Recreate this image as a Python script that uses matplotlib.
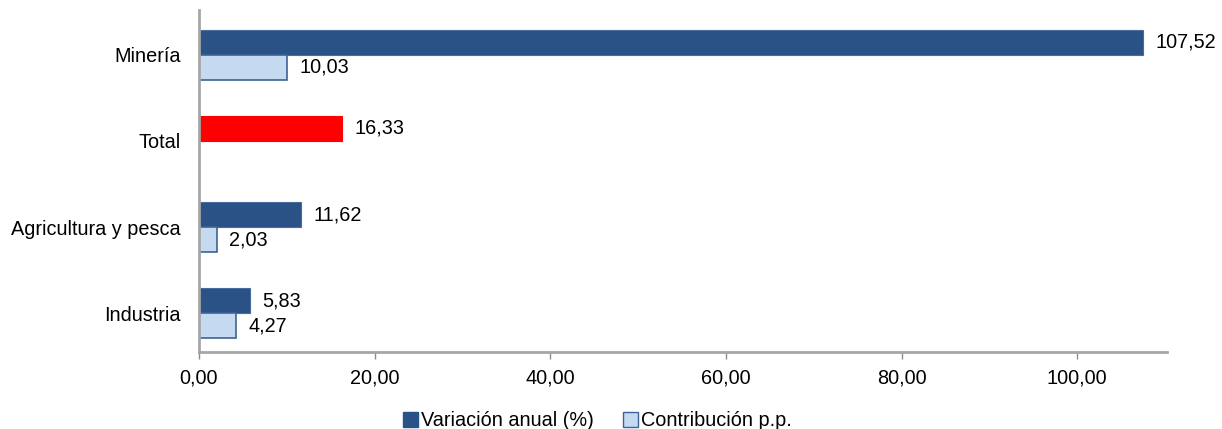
import matplotlib
matplotlib.use('Agg')
import matplotlib.pyplot as plt
from matplotlib.patches import Patch

plt.rcParams['font.family'] = ['Liberation Sans', 'DejaVu Sans']

categorias = ['Industria', 'Agricultura y pesca', 'Total', 'Minería']
variacion = [5.83, 11.62, None, 107.52]
contribucion = [4.27, 2.03, None, 10.03]
total_valor = 16.33
ticks = [0, 20, 40, 60, 80, 100]

dark = '#2A5286'
light = '#C5D9F1'
red = '#FF0000'
fs = 14.3


def fmt(v):
    return '{:.2f}'.format(v).replace('.', ',')


fig = plt.figure(figsize=(12.22, 4.29), dpi=100)
ax = fig.add_axes([0.1628, 0.179, 0.7921, 0.798])

h = 0.29
for i, cat in enumerate(categorias):
    if cat == 'Total':
        ax.barh(i + h / 2, total_valor, height=h, color=red, edgecolor=red, linewidth=0.8)
        ax.text(total_valor + 1.4, i + h / 2, fmt(total_valor), va='center', ha='left', fontsize=fs)
        continue
    ax.barh(i + h / 2, variacion[i], height=h, color=dark, edgecolor='#4A6C9C', linewidth=0.8)
    ax.barh(i - h / 2, contribucion[i], height=h, color=light, edgecolor='#3E6393', linewidth=1.2)
    ax.text(variacion[i] + 1.4, i + h / 2, fmt(variacion[i]), va='center', ha='left', fontsize=fs)
    ax.text(contribucion[i] + 1.4, i - h / 2, fmt(contribucion[i]), va='center', ha='left', fontsize=fs)

ax.set_xlim(0, 110.2)
ax.set_ylim(-0.45, 3.52)
ax.set_yticks(range(len(categorias)))
ax.set_yticklabels(categorias, fontsize=fs)
ax.set_xticks(ticks)
ax.set_xticklabels([fmt(t) for t in ticks], fontsize=fs)
ax.tick_params(axis='y', length=0, pad=13)
ax.tick_params(axis='x', length=5, width=1, color='#8C8C8C', pad=7)
for s in ['top', 'right']:
    ax.spines[s].set_visible(False)
for s in ['left', 'bottom']:
    ax.spines[s].set_color('#A6A6A6')
    ax.spines[s].set_linewidth(2)

handles = [Patch(facecolor=dark, edgecolor=dark, label='Variación anual (%)'),
           Patch(facecolor=light, edgecolor='#3E6393', label='Contribución p.p.')]
fig.legend(handles=handles, loc='lower center', bbox_to_anchor=(0.489, -0.045), ncol=2,
           frameon=False, fontsize=fs, handlelength=0.75, handleheight=0.75,
           handletextpad=0.15, columnspacing=1.45)

fig.savefig('out.png', dpi=100)
